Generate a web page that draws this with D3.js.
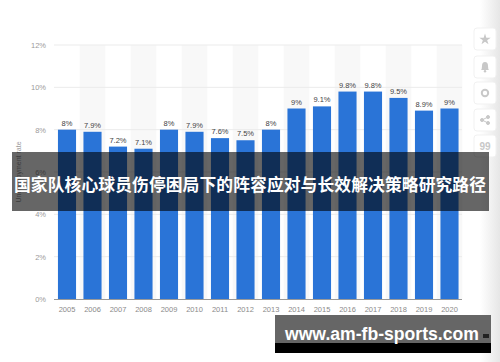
<!DOCTYPE html>
<html><head><meta charset="utf-8">
<script src="https://cdn.jsdelivr.net/npm/d3@7/dist/d3.min.js"></script>
<style>html,body{margin:0;padding:0;background:#fff;}svg{display:block;}</style>
</head><body>
<svg id="c" width="500" height="362"></svg>
<script>
const years = ["2005","2006","2007","2008","2009","2010","2011","2012","2013","2014","2015","2016","2017","2018","2019","2020"];
const values = [8, 7.9, 7.2, 7.1, 8, 7.9, 7.6, 7.5, 8, 9, 9.1, 9.8, 9.8, 9.5, 8.9, 9];
const valueLabels = ["8%","7.9%","7.2%","7.1%","8%","7.9%","7.6%","7.5%","8%","9%","9.1%","9.8%","9.8%","9.5%","8.9%","9%"];
const yTicks = [0, 2, 4, 6, 8, 10, 12];
const yTitle = "Unemployment rate";
const bannerText = "国家队核心球员伤停困局下的阵容应对与长效解决策略研究路径";
const watermark = "www.am-fb-sports.com";

const svg = d3.select("#c");
const font = "'Liberation Sans', Arial, sans-serif";

const defs = svg.append("defs");
const g1 = defs.append("linearGradient").attr("id","edge").attr("x1","0").attr("x2","1");
g1.append("stop").attr("offset","0").attr("stop-color","#ffffff");
g1.append("stop").attr("offset","1").attr("stop-color","#e6e6e6");
svg.append("rect").attr("x",480).attr("y",0).attr("width",20).attr("height",362).attr("fill","url(#edge)");

const x = d3.scaleBand().domain(years).range([54.25, 462.25]).paddingInner(0.29).paddingOuter(0.145);
const y = d3.scaleLinear().domain([0, 12]).range([299, 45]);

// alternate column shading
svg.append("g").selectAll("rect").data(years.filter((d,i)=>i%2===1)).join("rect")
  .attr("x", d => x(d) - x.step()*x.paddingInner()/2)
  .attr("width", x.step())
  .attr("y", y(12)).attr("height", y(0)-y(12))
  .attr("fill", "#f8f8f8");

// gridlines
svg.append("g").selectAll("line").data(yTicks.filter(t=>t>0)).join("line")
  .attr("x1", 54).attr("x2", 462)
  .attr("y1", d => y(d)).attr("y2", d => y(d))
  .attr("stroke", "#ebebeb").attr("stroke-width", 1);

// y axis labels
const yAxis = d3.axisLeft(y).tickValues(yTicks).tickFormat(d => d + "%").tickSize(0).tickPadding(0);
const ya = svg.append("g").attr("transform","translate(46,0)").call(yAxis);
ya.select(".domain").remove();
ya.selectAll("text").attr("font-family", font).attr("font-size", 7.5).attr("fill", "#9a9a9a");

// y title
svg.append("text").attr("transform","translate(21,172) rotate(-90)")
  .attr("text-anchor","middle").attr("font-family", font).attr("font-size", 7)
  .attr("fill","#9a9a9a").text(yTitle);

// bars
svg.append("g").selectAll("rect").data(values).join("rect")
  .attr("x", (d,i) => x(years[i]))
  .attr("width", x.bandwidth())
  .attr("y", d => y(d))
  .attr("height", d => y(0) - y(d))
  .attr("fill", "#2a74d7");

// value labels
svg.append("g").selectAll("text").data(values).join("text")
  .attr("x", (d,i) => x(years[i]) + x.bandwidth()/2)
  .attr("y", d => y(d) - 4)
  .attr("text-anchor","middle").attr("font-family", font).attr("font-size", 7.5)
  .attr("fill","#444").text((d,i) => valueLabels[i]);

// x axis
const xAxis = d3.axisBottom(x).tickSize(0).tickPadding(8);
const xa = svg.append("g").attr("transform","translate(0,299)").call(xAxis);
xa.select(".domain").attr("d","M54,0.5H462").attr("stroke","#999").attr("stroke-width",1);
xa.selectAll("text").attr("font-family", font).attr("font-size", 7.5).attr("fill","#8a8a8a");

// sidebar icons
const iconY = [39, 67, 93, 120, 146];
const side = svg.append("g");
side.selectAll("rect").data(iconY).join("rect")
  .attr("x", 474).attr("y", d => d-11).attr("width", 22).attr("height", 22).attr("rx", 3)
  .attr("fill", "#fff").attr("stroke","#f1f1f1");
const ic = "#c8c8c8";
side.append("path").attr("d", d3.symbol(d3.symbolStar, 40)()).attr("transform","translate(485,39.5)").attr("fill", ic);
side.append("path").attr("d","M481,70 Q482,69 482,66 Q482,62 485,62 Q488,62 488,66 Q488,69 489,70 Z").attr("fill", ic);
side.append("circle").attr("cx",485).attr("cy",71.2).attr("r",1.2).attr("fill", ic);
side.append("circle").attr("cx",485).attr("cy",93).attr("r",3.2).attr("fill","none").attr("stroke",ic).attr("stroke-width",2);
const sh = side.append("g").attr("fill", ic).attr("stroke", ic).attr("stroke-width", 1);
sh.append("line").attr("x1",482).attr("y1",120).attr("x2",488).attr("y2",117);
sh.append("line").attr("x1",482).attr("y1",120).attr("x2",488).attr("y2",123);
sh.append("circle").attr("cx",482).attr("cy",120).attr("r",1.5);
sh.append("circle").attr("cx",488).attr("cy",117).attr("r",1.5);
sh.append("circle").attr("cx",488).attr("cy",123).attr("r",1.5);
side.append("text").attr("x",485).attr("y",150).attr("text-anchor","middle")
  .attr("font-family", font).attr("font-weight","bold").attr("font-size",10).attr("fill", ic).text("99");

// banner
svg.append("rect").attr("x", 12).attr("y", 152).attr("width", 477).attr("height", 59)
  .attr("fill", "rgba(0,0,0,0.6)");
svg.append("text").attr("x", 250).attr("y", 191).attr("text-anchor","middle")
  .attr("font-family","'Noto Sans CJK SC', sans-serif").attr("font-weight","bold")
  .attr("font-size", 16.8).attr("fill","#fff")
  .attr("textLength", 472).attr("lengthAdjust","spacing").text(bannerText);

// watermark
svg.append("rect").attr("x", 275).attr("y", 315).attr("width", 216).attr("height", 29).attr("fill", "#666");
svg.append("rect").attr("x", 275).attr("y", 343).attr("width", 216).attr("height", 10).attr("fill", "#000");
svg.append("text").attr("x", 285).attr("y", 340)
  .attr("font-family", font).attr("font-weight","bold")
  .attr("font-size", 17.6).attr("fill","#fff").text(watermark);
svg.append("rect").attr("x", 483).attr("y", 334).attr("width", 6).attr("height", 4).attr("fill", "#222");
</script>
</body></html>
